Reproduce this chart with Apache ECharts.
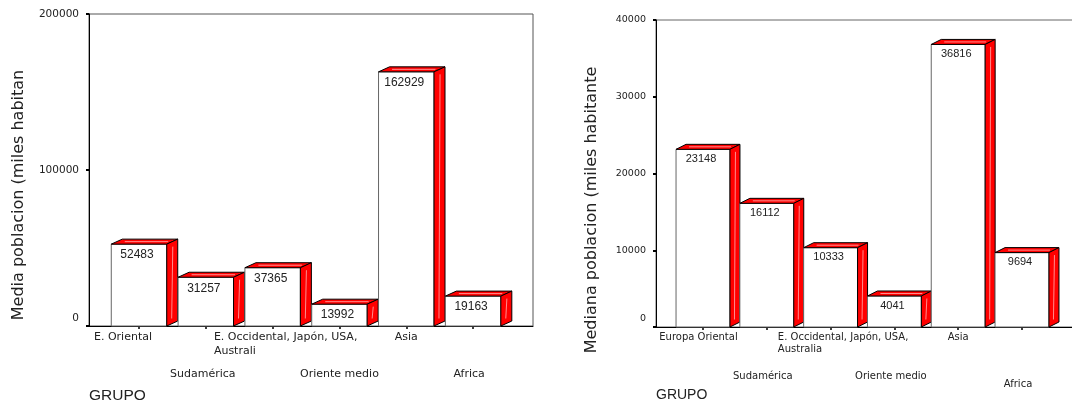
<!DOCTYPE html>
<html>
<head>
<meta charset="utf-8">
<script src="https://cdn.jsdelivr.net/npm/echarts@6/dist/echarts.min.js"></script>
<style>
  html, body { margin: 0; padding: 0; background: #fff; }
  #chart { width: 1072px; height: 405px; }
</style>
</head>
<body>
<div id="chart"></div>
<script>
// Mean population by group (thousands of inhabitants)
const mediaCategories = ['E. Oriental', 'Sudamérica', 'E. Occidental, Japón, USA,\nAustrali', 'Oriente medio', 'Asia', 'Africa'];
const mediaValues = [52483, 31257, 37365, 13992, 162929, 19163];
const mediaTicks = [0, 100000, 200000];

// Median population by group (thousands of inhabitants)
const medianaCategories = ['Europa Oriental', 'Sudamérica', 'E. Occidental, Japón, USA,\nAustralia', 'Oriente medio', 'Asia', 'Africa'];
const medianaValues = [23148, 16112, 10333, 4041, 36816, 9694];
const medianaTicks = [0, 10000, 20000, 30000, 40000];

const INK = '#222';
const SANS = '"Liberation Sans", Arial, sans-serif';
const WIDE = '"DejaVu Sans", sans-serif';

// Per-label nudges for the staggered category labels: [top, right, bottom, left] padding
const mediaLabelPad = [[0, 32, 0, 0], [74, 6, 0, 0], [0, 0, 0, 26], [74, 0, 0, 0], [0, 0, 0, 0], [74, 8, 0, 0]];
const medianaLabelPad = [[0, 9, 0, 0], [78, 8, 0, 0], [0, 0, 0, 25], [78, 7, 0, 0], [0, 0, 0, 0], [94, 8, 0, 0]];

function categoryLabel(padList, fontSize, lineHeight) {
  const rich = {};
  padList.forEach((p, i) => {
    rich['c' + i] = { padding: p, align: 'left', fontFamily: WIDE, fontSize: fontSize, color: INK, lineHeight: lineHeight };
  });
  return {
    interval: 0,
    margin: 4,
    fontFamily: WIDE,
    fontSize: fontSize,
    color: INK,
    formatter: (value, index) => value.split('\n').map(line => '{c' + index + '|' + line + '}').join('\n'),
    rich: rich
  };
}

function valueLabel(fontSize) {
  return {
    margin: 10,
    fontFamily: WIDE,
    fontSize: fontSize,
    color: INK,
    formatter: v => (v === 0 ? '{z|0}' : String(v)),
    rich: { z: { padding: [0, 0, 16, 0], fontFamily: WIDE, fontSize: fontSize, color: INK } }
  };
}

// Bars drawn as prisms: white front face, red top and right side
function prismBars(depthX, depthY, faceRatio, font, labelDrop) {
  return function (params, api) {
    const idx = api.value(0);
    const val = api.value(1);
    const top = api.coord([idx, val]);
    const base = api.coord([idx, 0]);
    const w = api.size([1, 0])[0] * faceRatio;
    const xl = top[0] - w / 2, xr = top[0] + w / 2, yt = top[1], yb = base[1];
    return {
      type: 'group',
      children: [
        { type: 'rect', shape: { x: xl, y: yt, width: w, height: yb - yt }, style: { fill: '#fff', stroke: '#666', lineWidth: 1 } },
        { type: 'polygon', shape: { points: [[xl, yt], [xl + depthX, yt - depthY], [xr + depthX, yt - depthY], [xr, yt]] },
          style: { fill: '#ff0000', stroke: '#000', lineWidth: 1 } },
        { type: 'polygon', shape: { points: [[xr, yt], [xr + depthX, yt - depthY], [xr + depthX, yb - depthY], [xr, yb]] },
          style: { fill: '#ff0000', stroke: '#000', lineWidth: 1 } },
        { type: 'line', shape: { x1: xl + depthX * 0.5 + 8, y1: yt - depthY * 0.5, x2: xr + depthX * 0.5 - 4, y2: yt - depthY * 0.5 },
          style: { stroke: 'rgba(255,175,175,0.8)', lineWidth: 1 } },
        { type: 'line', shape: { x1: xr + depthX * 0.55, y1: yt - depthY * 0.5 + 5, x2: xr + depthX * 0.45, y2: yb - depthY * 0.5 - 5 },
          style: { stroke: 'rgba(255,175,175,0.8)', lineWidth: 1 } },
        { type: 'text', style: { text: String(val), x: top[0] - 2, y: yt + labelDrop, align: 'center', verticalAlign: 'middle',
          font: font, fill: INK } }
      ]
    };
  };
}

const chart = echarts.init(document.getElementById('chart'), null, { renderer: 'canvas' });

const frameAxisLine = { show: true, lineStyle: { color: '#000', width: 1 } };

chart.setOption({
  animation: false,
  backgroundColor: '#fff',
  grid: [
    // frames
    { left: 89, top: 14, width: 444, height: 312, show: true, borderColor: '#555', borderWidth: 1, containLabel: false, outerBoundsMode: 'none' },
    { left: 656, top: 20, width: 420, height: 307, show: true, borderColor: '#666', borderWidth: 1, containLabel: false, outerBoundsMode: 'none' },
    // bar areas
    { left: 105.6, top: 14, width: 400.9, height: 312, containLabel: false, outerBoundsMode: 'none' },
    { left: 671.1, top: 20, width: 382.8, height: 307, containLabel: false, outerBoundsMode: 'none' }
  ],
  xAxis: [
    { gridIndex: 0, type: 'value', min: 0, max: 1, axisLine: frameAxisLine, axisTick: { show: false }, axisLabel: { show: false }, splitLine: { show: false },
      name: 'GRUPO', nameLocation: 'start', nameGap: 0, nameMoveOverlap: false,
      nameTextStyle: { align: 'left', verticalAlign: 'top', padding: [62, 0, 0, 0], fontFamily: SANS, fontSize: 15.5, color: INK } },
    { gridIndex: 1, type: 'value', min: 0, max: 1, axisLine: frameAxisLine, axisTick: { show: false }, axisLabel: { show: false }, splitLine: { show: false },
      name: 'GRUPO', nameLocation: 'start', nameGap: 0, nameMoveOverlap: false,
      nameTextStyle: { align: 'left', verticalAlign: 'top', padding: [61, 0, 0, 0], fontFamily: SANS, fontSize: 14, color: INK } },
    { gridIndex: 2, type: 'category', data: mediaCategories, boundaryGap: true,
      axisLine: { show: false }, axisTick: { show: true, alignWithLabel: true, interval: 0, length: 3, lineStyle: { color: '#000', width: 1.5 } },
      axisLabel: categoryLabel(mediaLabelPad, 11, 14) },
    { gridIndex: 3, type: 'category', data: medianaCategories, boundaryGap: true,
      axisLine: { show: false }, axisTick: { show: true, alignWithLabel: true, interval: 0, length: 3, lineStyle: { color: '#000', width: 1.5 } },
      axisLabel: categoryLabel(medianaLabelPad, 10, 12) }
  ],
  yAxis: [
    { gridIndex: 0, type: 'value', min: mediaTicks[0], max: mediaTicks[mediaTicks.length - 1], interval: mediaTicks[1] - mediaTicks[0],
      axisLine: frameAxisLine, axisTick: { show: true, length: 3, lineStyle: { color: '#000', width: 2 } }, splitLine: { show: false },
      axisLabel: valueLabel(10.5),
      name: 'Media poblacion (miles habitantes)', nameLocation: 'middle', nameGap: 70, nameRotate: 90, nameMoveOverlap: false,
      nameTruncate: { maxWidth: 254, ellipsis: '' },
      nameTextStyle: { verticalAlign: 'middle', padding: [0, 50, 0, 0], fontFamily: WIDE, fontSize: 16, color: INK } },
    { gridIndex: 1, type: 'value', min: medianaTicks[0], max: medianaTicks[medianaTicks.length - 1], interval: medianaTicks[1] - medianaTicks[0],
      axisLine: frameAxisLine, axisTick: { show: true, length: 3, lineStyle: { color: '#000', width: 2 } }, splitLine: { show: false },
      axisLabel: valueLabel(9.5),
      name: 'Mediana poblacion (miles habitante', nameLocation: 'middle', nameGap: 64, nameRotate: 90, nameMoveOverlap: false,
      nameTextStyle: { verticalAlign: 'middle', padding: [0, 73, 0, 0], fontFamily: WIDE, fontSize: 16, color: INK } },
    { gridIndex: 2, type: 'value', show: false, min: mediaTicks[0], max: mediaTicks[mediaTicks.length - 1] },
    { gridIndex: 3, type: 'value', show: false, min: medianaTicks[0], max: medianaTicks[medianaTicks.length - 1] }
  ],
  series: [
    { type: 'custom', xAxisIndex: 2, yAxisIndex: 2, clip: false,
      renderItem: prismBars(11, 5, 0.83, '12px ' + SANS, 11),
      encode: { x: 0, y: 1 },
      data: mediaValues.map((v, i) => [i, v]) },
    { type: 'custom', xAxisIndex: 3, yAxisIndex: 3, clip: false,
      renderItem: prismBars(10, 5, 0.845, '11px ' + SANS, 9.5),
      encode: { x: 0, y: 1 },
      data: medianaValues.map((v, i) => [i, v]) }
  ]
});
</script>
</body>
</html>
